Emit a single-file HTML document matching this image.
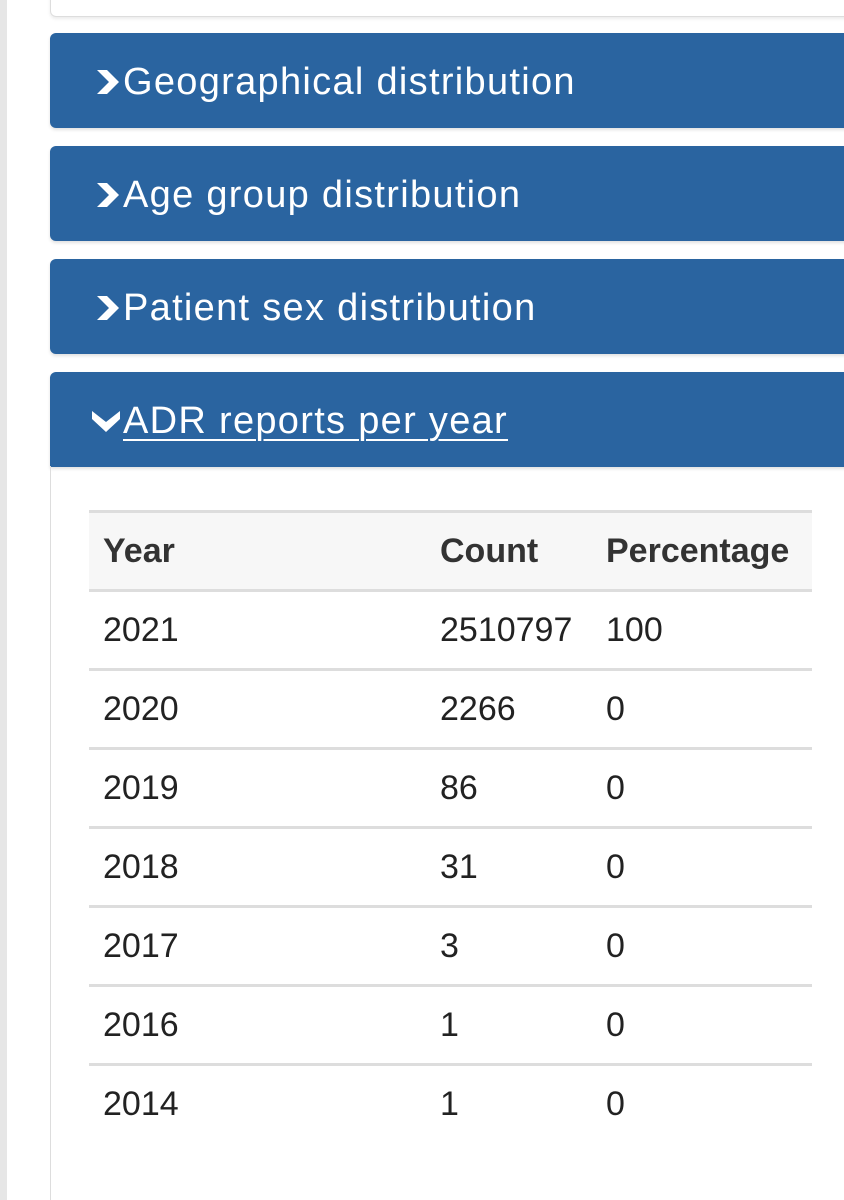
<!DOCTYPE html>
<html><head><meta charset="utf-8"><style>
html,body{margin:0;width:844px;height:1200px;overflow:hidden}
body{background:#fff;font-family:"Liberation Sans",sans-serif;position:relative}
.strip{position:absolute;left:0;top:0;width:7px;height:1200px;background:#e6e6e6}
.topcard{position:absolute;left:50px;top:-10px;width:810px;height:25px;border:1px solid #ddd;border-radius:6px;box-shadow:0 2px 3px rgba(0,0,0,.08)}
.panel{position:absolute;left:50px;width:810px;height:95px;background:#2a64a0;border-radius:6px;color:#fff;font-size:38px;letter-spacing:1.3px;box-shadow:0 2px 3px rgba(0,0,0,.12)}
.panel span.t{position:absolute;left:73px;top:28px;font-weight:300}
.chev{position:absolute;left:45px;top:34px;width:26px;height:30px}
.body{position:absolute;left:50px;top:466px;width:810px;height:740px;border-left:1px solid #ddd}
table{position:absolute;left:89px;top:510px;width:723px;border-collapse:collapse;font-size:34px;color:#222}
td,th{height:76px;border-top:3px solid #ddd;padding:0 0 0 14px;text-align:left;vertical-align:middle}
th{background:#f7f7f7;color:#333}
</style></head><body>
<div class="strip"></div>
<div class="topcard"></div>
<div class="panel" style="top:33px"><svg class="chev" viewBox="0 0 26 30"><path d="M2 3 L12 3 L24 15 L12 27 L2 27 L14 15Z" fill="#fff"/></svg><span class="t">Geographical distribution</span></div>
<div class="panel" style="top:146px"><svg class="chev" viewBox="0 0 26 30"><path d="M2 3 L12 3 L24 15 L12 27 L2 27 L14 15Z" fill="#fff"/></svg><span class="t">Age group distribution</span></div>
<div class="panel" style="top:259px"><svg class="chev" viewBox="0 0 26 30"><path d="M2 3 L12 3 L24 15 L12 27 L2 27 L14 15Z" fill="#fff"/></svg><span class="t">Patient sex distribution</span></div>
<div class="panel" style="top:372px;border-radius:6px 6px 0 0"><svg class="chev" viewBox="0 0 30 26" style="left:40px;top:36px;width:32px;height:26px"><path d="M1 3 L1 11 L15 24 L29 11 L29 3 L15 14Z" fill="#fff"/></svg><span class="t" style="text-decoration:underline;text-underline-offset:6px;text-decoration-thickness:2px">ADR reports per year</span></div>
<div class="body"></div>
<table>
<tr><th style="width:323px">Year</th><th style="width:152px">Count</th><th>Percentage</th></tr>
<tr><td>2021</td><td>2510797</td><td>100</td></tr>
<tr><td>2020</td><td>2266</td><td>0</td></tr>
<tr><td>2019</td><td>86</td><td>0</td></tr>
<tr><td>2018</td><td>31</td><td>0</td></tr>
<tr><td>2017</td><td>3</td><td>0</td></tr>
<tr><td>2016</td><td>1</td><td>0</td></tr>
<tr><td>2014</td><td>1</td><td>0</td></tr>
</table>
</body></html>
